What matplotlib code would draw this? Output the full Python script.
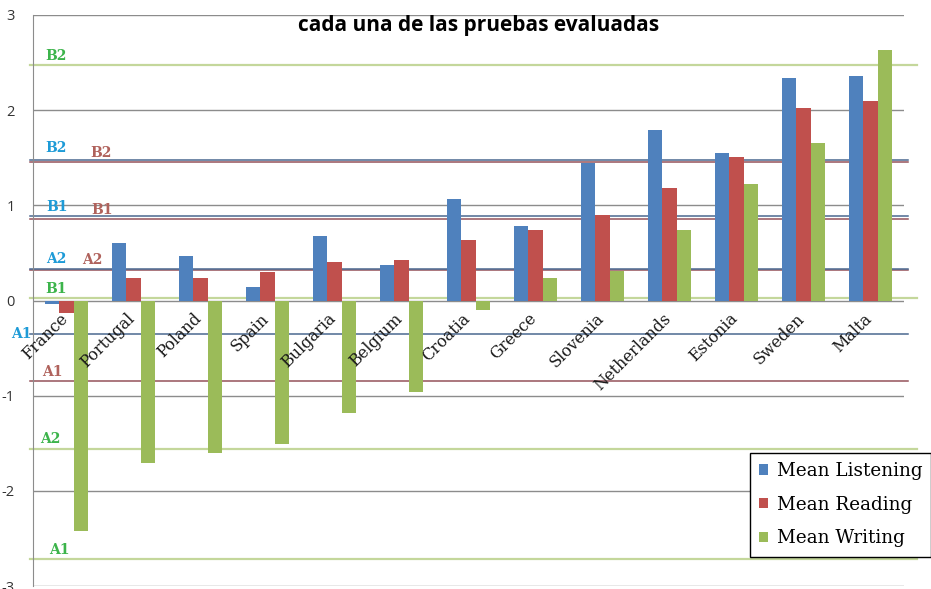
import matplotlib
matplotlib.use("Agg")
import matplotlib.pyplot as plt
import numpy as np

# data
countries = ['France', 'Portugal', 'Poland', 'Spain', 'Bulgaria', 'Belgium', 'Croatia',
             'Greece', 'Slovenia', 'Netherlands', 'Estonia', 'Sweden', 'Malta']
listening = [-0.04, 0.60, 0.47, 0.14, 0.68, 0.37, 1.07, 0.78, 1.45, 1.79, 1.55, 2.34, 2.36]
reading = [-0.13, 0.24, 0.24, 0.30, 0.40, 0.43, 0.64, 0.74, 0.90, 1.18, 1.51, 2.02, 2.10]
writing = [-2.42, -1.71, -1.60, -1.51, -1.18, -0.96, -0.10, 0.24, 0.31, 0.74, 1.22, 1.66, 2.63]

# CEFR level thresholds per test
level_names = ['A1', 'A2', 'B1', 'B2']
listening_levels = [-0.35, 0.335, 0.885, 1.475]
reading_levels = [-0.85, 0.325, 0.855, 1.455]
writing_levels = [-2.72, -1.56, 0.025, 2.47]

yticks = [3, 2, 1, 0, -1, -2, -3]

c_blue = '#4f81bd'
c_red = '#c0504d'
c_green = '#9bbb59'

fig = plt.figure(figsize=(9.31, 5.89), dpi=100)
ax = fig.add_axes([33/931, 3/589, 871/931, 571/589])

barWidth = 0.217
r = np.arange(len(countries))
ax.bar(r - barWidth, listening, width=barWidth, color=c_blue, label='Mean Listening', zorder=3)
ax.bar(r, reading, width=barWidth, color=c_red, label='Mean Reading', zorder=3)
ax.bar(r + barWidth, writing, width=barWidth, color=c_green, label='Mean Writing', zorder=3)

ax.set_xlim(-0.5, len(countries) - 0.5)
ax.set_ylim(-3, 3)

# gridlines
for v in yticks:
    ax.axhline(v, color='#8c8c8c', lw=1.0, zorder=1)

# level lines
for v in writing_levels:
    ax.axhline(v, xmin=-0.003, xmax=1.015, color='#c4d79b', lw=1.6, zorder=1, clip_on=False)
for v in listening_levels:
    ax.axhline(v, xmin=-0.003, xmax=1.005, color='#4a6890', lw=1.1, zorder=1.2, clip_on=False)
for v in reading_levels:
    ax.axhline(v, xmin=-0.003, xmax=1.005, color='#94525a', lw=1.1, zorder=1.1, clip_on=False)

# level labels
lab_font = dict(family='DejaVu Serif', fontweight='bold', fontsize=10, va='center', ha='left')
off = 0.1
green_x = [-0.26, -0.39, -0.32, -0.32]
for name, v, x in zip(level_names, writing_levels, green_x):
    ax.text(x, v + off, name, color='#3cb44b', **lab_font)
blue_x = [-0.82, -0.31, -0.3, -0.31]
for name, v, x in zip(level_names, listening_levels, blue_x):
    dy = 0 if name == 'A1' else off
    if name == 'B2':
        dy = 0.13
    ax.text(x, v + dy, name, color='#1e9bd7', clip_on=False, **lab_font)
red_x = [-0.37, 0.24, 0.37, 0.36]
for name, v, x in zip(level_names, reading_levels, red_x):
    ax.text(x, v + off, name, color='#b0625c', **lab_font)

# axes styling
for s in ['top', 'right', 'bottom']:
    ax.spines[s].set_visible(False)
ax.spines['left'].set_color('#8c8c8c')
ax.set_xticks([])
ax.set_yticks(yticks)
ax.set_yticklabels([str(t) for t in yticks], family='Open Sans', fontsize=10.5, color='#333333')
ax.tick_params(axis='y', length=0, pad=13)

# category labels
for i, name in enumerate(countries):
    ax.text(i + 0.07, -0.1, name, rotation=45, ha='right', va='top',
            family='DejaVu Serif', fontsize=11.5, color='#1a1a1a', zorder=4)

# title (second line visible)
fig.text(479/931, 1 - 25/589, 'cada una de las pruebas evaluadas', ha='center', va='center',
         family='Open Sans', fontweight='bold', fontsize=15, color='black')

leg = ax.legend(loc='upper left', bbox_to_anchor=(750/931, 1 - 453/589), bbox_transform=fig.transFigure,
                borderaxespad=0, fancybox=False, framealpha=1, edgecolor='black',
                prop={'family': 'DejaVu Serif', 'size': 13.2}, handlelength=0.5, handleheight=0.5,
                handletextpad=0.45, labelspacing=0.85, borderpad=0.5)
leg.get_frame().set_linewidth(1.0)
leg.set_zorder(10)

fig.savefig('out.png', dpi=100)
